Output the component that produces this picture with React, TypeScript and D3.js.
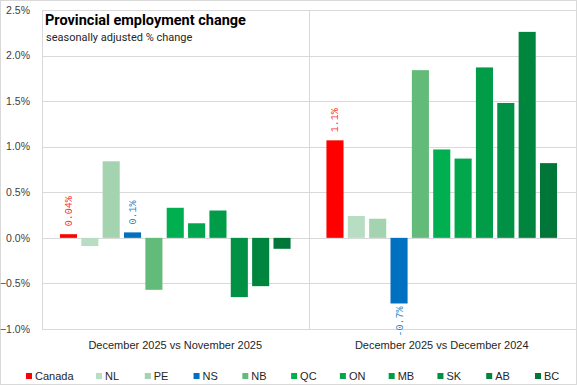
import React from 'react';
import * as d3 from 'd3';

// Series (one per province), two comparison periods
const periods = ['December 2025 vs November 2025', 'December 2025 vs December 2024'];
const provinces = ['Canada', 'NL', 'PE', 'NS', 'NB', 'QC', 'ON', 'MB', 'SK', 'AB', 'BC'];
const monthlyChange = [0.04, -0.09, 0.84, 0.06, -0.57, 0.33, 0.16, 0.3, -0.65, -0.53, -0.12];
const yearlyChange = [1.07, 0.24, 0.21, -0.72, 1.84, 0.97, 0.87, 1.87, 1.48, 2.26, 0.82];
const monthlyLabels = ['0.04%', '', '', '0.1%', '', '', '', '', '', '', ''];
const yearlyLabels = ['1.1%', '', '', '-0.7%', '', '', '', '', '', '', ''];
const yTicks = [-1.0, -0.5, 0, 0.5, 1.0, 1.5, 2.0, 2.5];
const colors = ['#FF0000', '#B7DEC2', '#A3D3AF', '#0070C0', '#63BB7A', '#00B050', '#02A64C', '#009C47', '#009145', '#00853F', '#007638'];

const W = 577;
const H = 385;
const plot = { left: 42, right: 575, top: 10, bottom: 329 };

export default function App() {
  const y = d3.scaleLinear().domain([-1, 2.5]).range([plot.bottom, plot.top]);
  const x0 = d3.scaleBand<string>().domain(periods).range([plot.left, plot.right]);
  const x1 = d3.scaleBand<string>()
    .domain(provinces)
    .range([0, x0.bandwidth()])
    .paddingInner(0.2)
    .paddingOuter(0.84);
  const color = d3.scaleOrdinal<string, string>().domain(provinces).range(colors);
  const legendX = d3.scalePoint<string>().domain(provinces.slice(1)).range([96, 535]);

  const series = [monthlyChange, yearlyChange];
  const labels = [monthlyLabels, yearlyLabels];
  const fmt = d3.format('.1f');

  return (
    <svg width={W} height={H} style={{ position: 'fixed', left: 0, top: 0, background: '#fff' }}
      fontFamily="'Liberation Sans', Arial, sans-serif">
      <rect x={0.5} y={0.5} width={W - 1} height={H - 1} fill="#fff" stroke="#D9D9D9" />

      {/* horizontal gridlines + y labels */}
      {yTicks.map(t => (
        <g key={t}>
          <line x1={plot.left} x2={plot.right + 1} y1={Math.round(y(t)) + 0.5} y2={Math.round(y(t)) + 0.5}
            stroke="#D9D9D9" strokeWidth={1} />
          <text x={30} y={y(t)} dy="0.35em" textAnchor="end" fontSize={10.5} fill="#404040">
            {fmt(t)}%
          </text>
        </g>
      ))}

      {/* vertical category separators */}
      {[plot.left, plot.left + x0.bandwidth()].map(v => (
        <line key={v} x1={Math.round(v) + 0.5} x2={Math.round(v) + 0.5} y1={plot.top} y2={plot.bottom}
          stroke="#D9D9D9" />
      ))}

      {/* title */}
      <text x={45} y={25} fontFamily="Roboto, sans-serif" fontWeight="bold" fontSize={14.5} fill="#000">
        Provincial employment change
      </text>
      <text x={46} y={41} fontFamily="Roboto, sans-serif" fontSize={11} fill="#262626">
        seasonally adjusted % change
      </text>

      {/* bars */}
      {periods.map((p, gi) => (
        <g key={p} transform={`translate(${x0(p)},0)`}>
          {provinces.map((prov, i) => {
            const v = series[gi][i];
            const bx = x1(prov)!;
            const top = y(Math.max(0, v));
            const h = Math.abs(y(v) - y(0));
            const lbl = labels[gi][i];
            const cx = bx + x1.bandwidth() / 2;
            return (
              <g key={prov}>
                <rect x={bx} y={top} width={x1.bandwidth()} height={h} fill={color(prov)} />
                {lbl && (
                  <text
                    transform={`translate(${cx + 3.5},${v >= 0 ? y(v) - 8 : y(v) + 3}) rotate(-90)`}
                    textAnchor={v >= 0 ? 'start' : 'end'}
                    fontFamily="'Liberation Mono', monospace"
                    fontSize={10}
                    fill={color(prov)}
                    fillOpacity={0.85}
                  >
                    {lbl}
                  </text>
                )}
              </g>
            );
          })}
          <text x={x0.bandwidth() / 2} y={349} textAnchor="middle" fontSize={11} fill="#262626">
            {p}
          </text>
        </g>
      ))}

      {/* legend */}
      {provinces.map((prov, i) => {
        const lx = i === 0 ? 26 : legendX(prov)!;
        return (
          <g key={prov} transform={`translate(${lx},376)`}>
            <rect x={0} y={-3} width={6} height={6} fill={color(prov)} />
            <text x={9} y={0} dy="0.35em" fontSize={11} fill="#262626">{prov}</text>
          </g>
        );
      })}
    </svg>
  );
}
